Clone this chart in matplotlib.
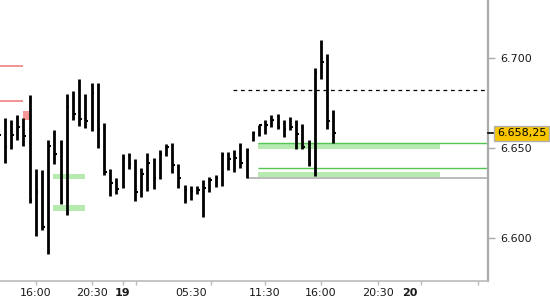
import numpy as np
import matplotlib
matplotlib.use('Agg')
import matplotlib.pyplot as plt
import matplotlib.transforms as mtransforms

# 30 min bars, first one (index -1) is only partly visible at the left edge
first_bar = -1
highs = [6666.8, 6666.7, 6665.7, 6668.5, 6666.7, 6679.6, 6638.5, 6638.0, 6654.6, 6660.2,
         6654.6, 6680.2, 6681.8, 6688.5, 6680.2, 6686.1, 6686.1, 6664.2, 6638.5, 6633.3,
         6646.7, 6647.2, 6644.1, 6638.9, 6647.2, 6644.5, 6649.1, 6652.4, 6652.8, 6641.3,
         6629.6, 6629.1, 6628.8, 6632.4, 6634.1, 6635.2, 6648.2, 6648.0, 6649.3, 6652.9,
         6650.0, 6659.9, 6663.2, 6665.7, 6668.5, 6668.9, 6665.5, 6667.4, 6665.7, 6663.3,
         6654.6, 6694.5, 6710.2, 6702.4, 6671.3]
lows = [6649.1, 6642.0, 6649.8, 6654.6, 6651.5, 6619.8, 6601.5, 6604.6, 6591.3, 6641.1,
        6619.1, 6613.0, 6665.7, 6662.4, 6661.1, 6659.8, 6650.0, 6635.2, 6623.7, 6624.5,
        6628.1, 6638.3, 6620.9, 6623.1, 6626.5, 6627.4, 6632.8, 6645.7, 6636.1, 6628.1,
        6619.9, 6621.3, 6624.9, 6611.6, 6625.7, 6628.5, 6629.3, 6638.0, 6636.8, 6639.1,
        6633.5, 6654.1, 6656.8, 6658.0, 6662.0, 6660.6, 6656.1, 6660.2, 6649.5, 6649.6,
        6640.3, 6634.8, 6688.5, 6660.6, 6653.1]
closes = [6657.4, 6650.6, 6657.6, 6661.7, 6656.7, 6621.3, 6625.6, 6606.5, 6651.3, 6646.8,
          6620.3, 6672.8, 6669.1, 6666.3, 6665.2, 6680.6, 6660.6, 6637.0, 6630.6, 6627.4,
          6644.8, 6641.1, 6625.9, 6635.6, 6641.7, 6633.3, 6646.7, 6650.6, 6640.7, 6633.7,
          6626.8, 6626.3, 6626.8, 6627.8, 6632.4, 6633.7, 6646.3, 6644.1, 6644.5, 6642.0,
          6649.1, 6658.7, 6662.7, 6663.0, 6665.7, 6662.0, 6660.7, 6661.7, 6658.0, 6650.9,
          6641.7, 6692.0, 6698.1, 6665.3, 6658.25]
last_price = 6658.25
last_label = '6.658,25'

# levels drawn on the chart
red_levels = [6695.9, 6676.5]
red_span = (-0.8, 2.9)
red_box = (6665.7, 6670.7)
red_box_span = (2.95, 3.9)
left_zones = [(6632.9, 6635.7), (6615.3, 6618.5)]
left_span = (7.84, 12.95)
right_zones = [(6649.5, 6652.8), (6634.2, 6637.0)]
right_span = (40.85, 70.2)
green_levels = [6652.8, 6639.2]
green_start = 40.85
gray_level = 6633.3
gray_start = 39.0
dashed_level = 6682.4
dashed_start = 36.8

# time axis
tick_pos = [5, 14, 19, 21.1, 33.2, 42, 51, 60.2, 67.2, 76.3]
label_pos = [5, 14, 19, 30.05, 42, 51, 60.2, 65.4]
label_txt = ['16:00', '20:30', '19', '05:30', '11:30', '16:00', '20:30', '20']
day_labels = ['19', '20']

price_ticks = [6600, 6650, 6700]
price_tick_txt = ['6.600', '6.650', '6.700']

fig = plt.figure(figsize=(5.5, 3), dpi=100)
ax = fig.add_axes([0, 0.0633, 488 / 550, 1 - 0.0633])
xmin, xmax = -0.76, 77.95
ax.set_xlim(xmin, xmax)
ax.set_ylim(6576.3, 6732.4)

# zones and levels (behind bars)
for lo, hi in left_zones:
    ax.fill_between(left_span, lo, hi, color='#b7eab1', lw=0, zorder=1)
for lo, hi in right_zones:
    ax.fill_between(right_span, lo, hi, color='#b7eab1', lw=0, zorder=1)
for lvl in green_levels:
    ax.hlines(lvl, green_start, xmax, color='#52c552', lw=1.0, zorder=2)
ax.hlines(gray_level, gray_start, xmax, color='#a8a8a8', lw=1.1, zorder=2)
ax.hlines(dashed_level, dashed_start, xmax, color='black', lw=0.9,
          linestyles=(0, (3, 3)), zorder=2)
for lvl in red_levels:
    ax.hlines(lvl, red_span[0], red_span[1], color='#f28a8a', lw=1.3, zorder=2)
ax.fill_between(red_box_span, red_box[0], red_box[1], color='#f59595', lw=0, zorder=2)

# HLC bars
x = np.arange(first_bar, first_bar + len(highs))
ax.vlines(x, lows, highs, color='black', lw=2.0, zorder=3, capstyle='butt')
ax.hlines(closes, x, x + 0.42, color='black', lw=1.5, zorder=3)

# axes styling
for side in ['left', 'top']:
    ax.spines[side].set_visible(False)
ax.spines['right'].set_color('#aaaaaa')
ax.spines['right'].set_linewidth(1.6)
ax.spines['bottom'].set_color('#bbbbbb')
ax.spines['bottom'].set_linewidth(1.2)

ax.yaxis.tick_right()
ax.set_yticks(price_ticks, price_tick_txt)
ax.tick_params(axis='y', length=5, width=1, color='#aaaaaa', labelsize=8,
               labelcolor='#1a1a1a', pad=4)

ax.set_xticks(tick_pos, [''] * len(tick_pos))
ax.tick_params(axis='x', length=3, width=1, color='#bbbbbb')
xtrans = mtransforms.blended_transform_factory(ax.transData, ax.transAxes)
for pos, txt in zip(label_pos, label_txt):
    ax.text(pos, -0.041, txt, transform=xtrans, fontsize=8, color='#1a1a1a',
            ha='center', va='center', clip_on=False,
            fontweight='bold' if txt in day_labels else 'normal')

# last price marker on the price scale
trans = mtransforms.blended_transform_factory(ax.transAxes, ax.transData)
ax.plot([1.0, 1.013], [last_price, last_price], color='black', lw=1.2,
        transform=trans, clip_on=False, zorder=5)
ax.text(1.018, last_price, last_label, transform=trans, fontsize=8, color='black',
        va='center', ha='left', zorder=6,
        bbox=dict(boxstyle='square,pad=0.25', facecolor='#f7c600', edgecolor='#b0b0b0', lw=1))

fig.savefig('out.png', dpi=100)
